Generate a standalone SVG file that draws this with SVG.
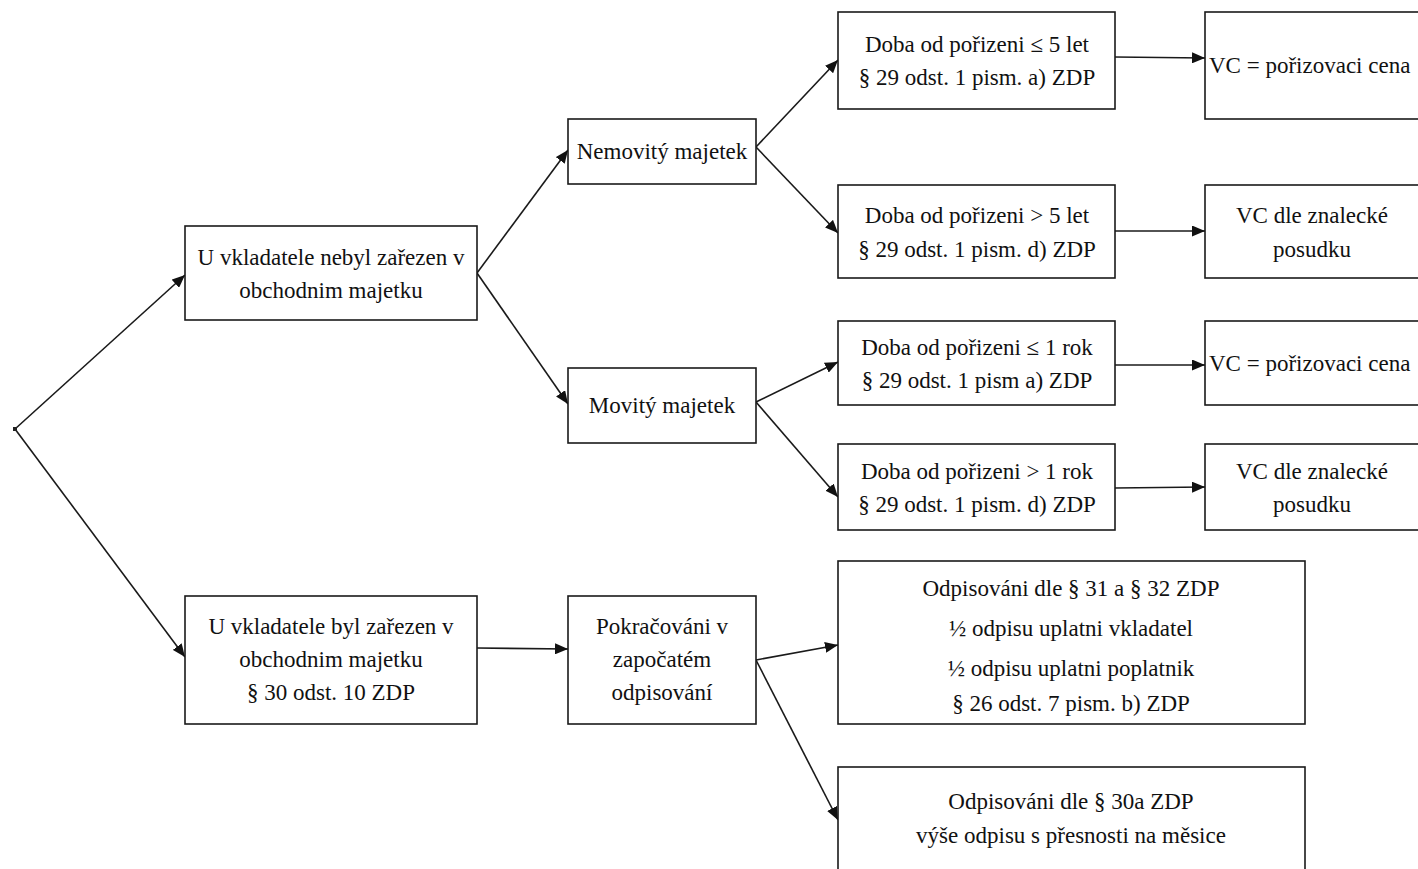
<svg xmlns="http://www.w3.org/2000/svg" width="1418" height="869" viewBox="0 0 1418 869">
<style>
.box{fill:#fff;stroke:#1a1a1a;stroke-width:1.6}
text{font-family:"Liberation Serif","Times New Roman",serif;font-size:23px;fill:#111}
.c{text-anchor:middle}
.l{text-anchor:start}
.edge{stroke:#1a1a1a;stroke-width:1.6;fill:none;marker-end:url(#ah)}
</style>
<defs>
<marker id="ah" viewBox="0 0 13 11" refX="13" refY="5.5" markerWidth="13" markerHeight="11" markerUnits="userSpaceOnUse" orient="auto">
<path d="M0,0 L13,5.5 L0,11 z" fill="#111"/>
</marker>
</defs>
<rect width="1418" height="869" fill="#fff"/>
<g id="connectors">
<line class="edge" x1="15" y1="429" x2="185" y2="275"/>
<line class="edge" x1="15" y1="429" x2="185" y2="657"/>
<line class="edge" x1="477" y1="273" x2="568" y2="150"/>
<line class="edge" x1="477" y1="273" x2="568" y2="404"/>
<line class="edge" x1="756" y1="147" x2="838" y2="60"/>
<line class="edge" x1="756" y1="147" x2="838" y2="233"/>
<line class="edge" x1="756" y1="402" x2="838" y2="362"/>
<line class="edge" x1="756" y1="402" x2="838" y2="497"/>
<line class="edge" x1="477" y1="648" x2="568" y2="649"/>
<line class="edge" x1="756" y1="660" x2="838" y2="645"/>
<line class="edge" x1="756" y1="660" x2="838" y2="820"/>
<line class="edge" x1="1115" y1="57" x2="1205" y2="58"/>
<line class="edge" x1="1115" y1="231" x2="1205" y2="231"/>
<line class="edge" x1="1115" y1="365" x2="1205" y2="365"/>
<line class="edge" x1="1115" y1="488" x2="1205" y2="487"/>
<rect x="13" y="427" width="4" height="4" fill="#222"/>
</g>
<g id="nebyl">
<rect class="box" x="185" y="226" width="292" height="94"/>
<text class="c" x="331" y="265">U vkladatele nebyl zařezen v</text>
<text class="c" x="331" y="298">obchodnim majetku</text>
</g>
<g id="byl">
<rect class="box" x="185" y="596" width="292" height="128"/>
<text class="c" x="331" y="634">U vkladatele byl zařezen v</text>
<text class="c" x="331" y="667">obchodnim majetku</text>
<text class="c" x="331" y="700">§ 30 odst. 10 ZDP</text>
</g>
<g id="nemovity">
<rect class="box" x="568" y="119" width="188" height="65"/>
<text class="c" x="662" y="159">Nemovitý majetek</text>
</g>
<g id="movity">
<rect class="box" x="568" y="368" width="188" height="75"/>
<text class="c" x="662" y="413">Movitý majetek</text>
</g>
<g id="pokracovani">
<rect class="box" x="568" y="596" width="188" height="128"/>
<text class="c" x="662" y="634">Pokračováni v</text>
<text class="c" x="662" y="667">započatém</text>
<text class="c" x="662" y="700">odpisování</text>
</g>
<g id="doba5le">
<rect class="box" x="838" y="12" width="277" height="97"/>
<text class="c" x="977" y="52">Doba od pořizeni ≤ 5 let</text>
<text class="c" x="977" y="85">§ 29 odst. 1 pism. a) ZDP</text>
</g>
<g id="doba5gt">
<rect class="box" x="838" y="185" width="277" height="93"/>
<text class="c" x="977" y="223">Doba od pořizeni &gt; 5 let</text>
<text class="c" x="977" y="257">§ 29 odst. 1 pism. d) ZDP</text>
</g>
<g id="doba1le">
<rect class="box" x="838" y="321" width="277" height="84"/>
<text class="c" x="977" y="355">Doba od pořizeni ≤ 1 rok</text>
<text class="c" x="977" y="388">§ 29 odst. 1 pism a) ZDP</text>
</g>
<g id="doba1gt">
<rect class="box" x="838" y="444" width="277" height="86"/>
<text class="c" x="977" y="479">Doba od pořizeni &gt; 1 rok</text>
<text class="c" x="977" y="512">§ 29 odst. 1 pism. d) ZDP</text>
</g>
<g id="odpis31">
<rect class="box" x="838" y="561" width="467" height="163"/>
<text class="c" x="1071" y="596">Odpisováni dle § 31 a § 32 ZDP</text>
<text class="c" x="1071" y="636">½ odpisu uplatni vkladatel</text>
<text class="c" x="1071" y="676">½ odpisu uplatni poplatnik</text>
<text class="c" x="1071" y="711">§ 26 odst. 7 pism. b) ZDP</text>
</g>
<g id="odpis30a">
<rect class="box" x="838" y="767" width="467" height="110"/>
<text class="c" x="1071" y="809">Odpisováni dle § 30a ZDP</text>
<text class="c" x="1071" y="843">výše odpisu s přesnosti na měsice</text>
</g>
<g id="vc1">
<rect class="box" x="1205" y="12" width="230" height="107"/>
<text class="l" x="1209" y="73">VC = pořizovaci cena</text>
</g>
<g id="vc2">
<rect class="box" x="1205" y="185" width="230" height="93"/>
<text class="c" x="1312" y="223">VC dle znalecké</text>
<text class="c" x="1312" y="257">posudku</text>
</g>
<g id="vc3">
<rect class="box" x="1205" y="321" width="230" height="84"/>
<text class="l" x="1209" y="371">VC = pořizovaci cena</text>
</g>
<g id="vc4">
<rect class="box" x="1205" y="444" width="230" height="86"/>
<text class="c" x="1312" y="479">VC dle znalecké</text>
<text class="c" x="1312" y="512">posudku</text>
</g>
</svg>
